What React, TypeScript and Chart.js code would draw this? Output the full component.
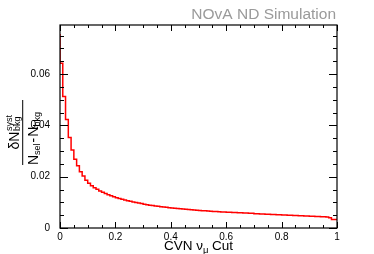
import React, { useEffect, useRef } from "react";
import { Chart, registerables } from "chart.js";

Chart.register(...registerables);

const FONT = "'Liberation Sans', Arial, Helvetica, sans-serif";

// Histogram: 100 bins of width 0.01 over the CVN numu cut range [0, 1]
const BIN_WIDTH = 0.01;
const fracValues = [
  0.0756, 0.0642, 0.0512, 0.0423, 0.0353, 0.0304, 0.0268, 0.0243, 0.0219, 0.0203,
  0.0186, 0.0174, 0.0165, 0.0157, 0.0151, 0.0144, 0.0139, 0.0134, 0.0130, 0.0126,
  0.0122, 0.0118, 0.0115, 0.0112, 0.0109, 0.0106, 0.0104, 0.0101, 0.0099, 0.0097,
  0.0095, 0.0093, 0.0091, 0.0089, 0.0088, 0.0086, 0.0085, 0.0083, 0.0082, 0.0081,
  0.0079, 0.0078, 0.0077, 0.0076, 0.0075, 0.0074, 0.0073, 0.0072, 0.0071, 0.0070,
  0.0069, 0.0068, 0.0067, 0.0067, 0.0066, 0.0065, 0.0064, 0.0064, 0.0063, 0.0062,
  0.0062, 0.0061, 0.0061, 0.0060, 0.0060, 0.0059, 0.0059, 0.0058, 0.0058, 0.0057,
  0.0057, 0.0056, 0.0056, 0.0055, 0.0055, 0.0054, 0.0054, 0.0053, 0.0053, 0.0052,
  0.0052, 0.0051, 0.0051, 0.0050, 0.0050, 0.0049, 0.0049, 0.0048, 0.0048, 0.0047,
  0.0047, 0.0046, 0.0046, 0.0045, 0.0045, 0.0044, 0.0044, 0.0043, 0.0040, 0.0033,
];

const xMajorTicks = [0, 0.2, 0.4, 0.6, 0.8, 1];
const xMinorStep = 0.05;
const yMajorTicks = [0, 0.02, 0.04, 0.06];
const yMinorStep = 0.005;
const X_MIN = 0;
const X_MAX = 1;
const Y_MIN = 0;
const Y_MAX = 0.0791;

const plotTitle = "NOvA ND Simulation";

function buildPoints() {
  const pts = fracValues.map((v, i) => ({ x: i * BIN_WIDTH, y: v }));
  pts.push({ x: fracValues.length * BIN_WIDTH, y: fracValues[fracValues.length - 1] });
  return pts;
}

function minorValues(min: number, max: number, step: number) {
  const out: number[] = [];
  for (let k = 0; k * step <= max + 1e-9; k++) {
    const v = k * step;
    if (v >= min - 1e-9) out.push(v);
  }
  return out;
}

const framePlugin = {
  id: "rootFrame",
  afterDraw(chart: any) {
    const ctx = chart.ctx as CanvasRenderingContext2D;
    const { left, right, top, bottom } = chart.chartArea;
    const xs = chart.scales.x;
    const ys = chart.scales.y;
    ctx.save();
    ctx.strokeStyle = "#000";
    ctx.lineWidth = 1.2;
    ctx.strokeRect(left, top, right - left, bottom - top);

    ctx.lineWidth = 1;
    ctx.beginPath();
    // x ticks
    minorValues(X_MIN, X_MAX, xMinorStep).forEach((v) => {
      const isMajor = xMajorTicks.some((m) => Math.abs(m - v) < 1e-9);
      const len = isMajor ? 6 : 3;
      const px = Math.round(xs.getPixelForValue(v)) + 0.5;
      ctx.moveTo(px, bottom);
      ctx.lineTo(px, bottom - len);
      ctx.moveTo(px, top);
      ctx.lineTo(px, top + len);
    });
    // y ticks
    minorValues(Y_MIN, Y_MAX, yMinorStep).forEach((v) => {
      const isMajor = yMajorTicks.some((m) => Math.abs(m - v) < 1e-9);
      const len = isMajor ? 8 : 4;
      const py = Math.round(ys.getPixelForValue(v)) + 0.5;
      ctx.moveTo(left, py);
      ctx.lineTo(left + len, py);
      ctx.moveTo(right, py);
      ctx.lineTo(right - len, py);
    });
    ctx.stroke();

    // Top-right title
    ctx.fillStyle = "#9a9a9a";
    ctx.font = `15.5px ${FONT}`;
    ctx.textAlign = "right";
    ctx.textBaseline = "alphabetic";
    ctx.fillText(plotTitle, right - 1, 18.5);

    // X axis title: CVN ν_μ Cut
    ctx.fillStyle = "#000";
    ctx.textAlign = "left";
    const mainF = `13.5px ${FONT}`;
    const subF = `9.5px ${FONT}`;
    ctx.font = mainF;
    const w1 = ctx.measureText("CVN ν").width;
    const w3 = ctx.measureText(" Cut").width;
    ctx.font = subF;
    const w2 = ctx.measureText("μ").width;
    const total = w1 + w2 + w3;
    let tx = (left + right) / 2 - total / 2;
    const base = 250;
    ctx.font = mainF;
    ctx.fillText("CVN ν", tx, base);
    tx += w1;
    ctx.font = subF;
    ctx.fillText("μ", tx, base + 3);
    tx += w2;
    ctx.font = mainF;
    ctx.fillText(" Cut", tx, base);

    // Y axis title: fraction, rotated
    ctx.save();
    ctx.translate(22.7, 132.5);
    ctx.rotate(-Math.PI / 2);
    ctx.fillStyle = "#000";
    ctx.fillRect(-32.5, -0.5, 65, 1);
    const nF = `14px ${FONT}`;
    const sF = `9px ${FONT}`;
    // numerator δN_bkg^syst
    let nx = -17;
    ctx.font = nF;
    ctx.fillText("δN", nx, -3.6);
    nx += ctx.measureText("δN").width + 0.5;
    ctx.font = sF;
    ctx.fillText("syst", nx, -11);
    ctx.fillText("bkg", nx, -2.4);
    // denominator N_sel - N_bkg
    let dx = -32.5;
    ctx.font = nF;
    ctx.fillText("N", dx, 14.8);
    dx += ctx.measureText("N").width;
    ctx.font = sF;
    ctx.fillText("sel", dx, 17);
    dx += ctx.measureText("sel").width + 1;
    ctx.font = nF;
    ctx.fillText("-", dx, 14.8);
    dx += ctx.measureText("-").width + 1;
    ctx.fillText("N", dx, 14.8);
    dx += ctx.measureText("N").width;
    ctx.font = sF;
    ctx.fillText("bkg", dx, 17);
    ctx.restore();

    ctx.restore();
  },
};

export default function App() {
  const canvasRef = useRef<HTMLCanvasElement | null>(null);

  useEffect(() => {
    if (!canvasRef.current) return;
    const chart = new Chart(canvasRef.current, {
      type: "line",
      data: {
        datasets: [
          {
            data: buildPoints(),
            borderColor: "#ff0000",
            borderWidth: 1.5,
            stepped: "after",
            pointRadius: 0,
            fill: false,
          },
        ],
      },
      options: {
        responsive: false,
        animation: false,
        devicePixelRatio: 1,
        layout: { padding: { left: 8, right: 37, top: 25, bottom: 0 } },
        plugins: {
          legend: { display: false },
          tooltip: { enabled: false },
          title: { display: false },
        },
        scales: {
          x: {
            type: "linear",
            min: X_MIN,
            max: X_MAX,
            grid: { display: false },
            border: { display: false },
            afterBuildTicks: (axis: any) => {
              axis.ticks = xMajorTicks.map((v) => ({ value: v }));
            },
            afterFit: (scale: any) => {
              scale.height = 26;
            },
            ticks: {
              autoSkip: false,
              maxRotation: 0,
              padding: -5,
              color: "#000",
              font: { family: FONT, size: 10 },
              callback: (v: any) => {
                const n = Number(v);
                if (n === 0) return "0";
                if (n === 1) return "1";
                return n.toFixed(1);
              },
            },
          },
          y: {
            type: "linear",
            min: Y_MIN,
            max: Y_MAX,
            grid: { display: false },
            border: { display: false },
            afterBuildTicks: (axis: any) => {
              axis.ticks = yMajorTicks.map((v) => ({ value: v }));
            },
            afterFit: (scale: any) => {
              scale.width = 52;
            },
            ticks: {
              autoSkip: false,
              padding: 2,
              color: "#000",
              font: { family: FONT, size: 10 },
              callback: (v: any) => {
                const n = Number(v);
                if (n === 0) return "0";
                return n.toFixed(2);
              },
            },
          },
        },
      },
      plugins: [framePlugin],
    });
    return () => chart.destroy();
  }, []);

  return (
    <div style={{ position: "fixed", left: 0, top: 0, width: 374, height: 254, background: "#fff" }}>
      <canvas ref={canvasRef} width={374} height={254} style={{ display: "block" }} />
    </div>
  );
}
